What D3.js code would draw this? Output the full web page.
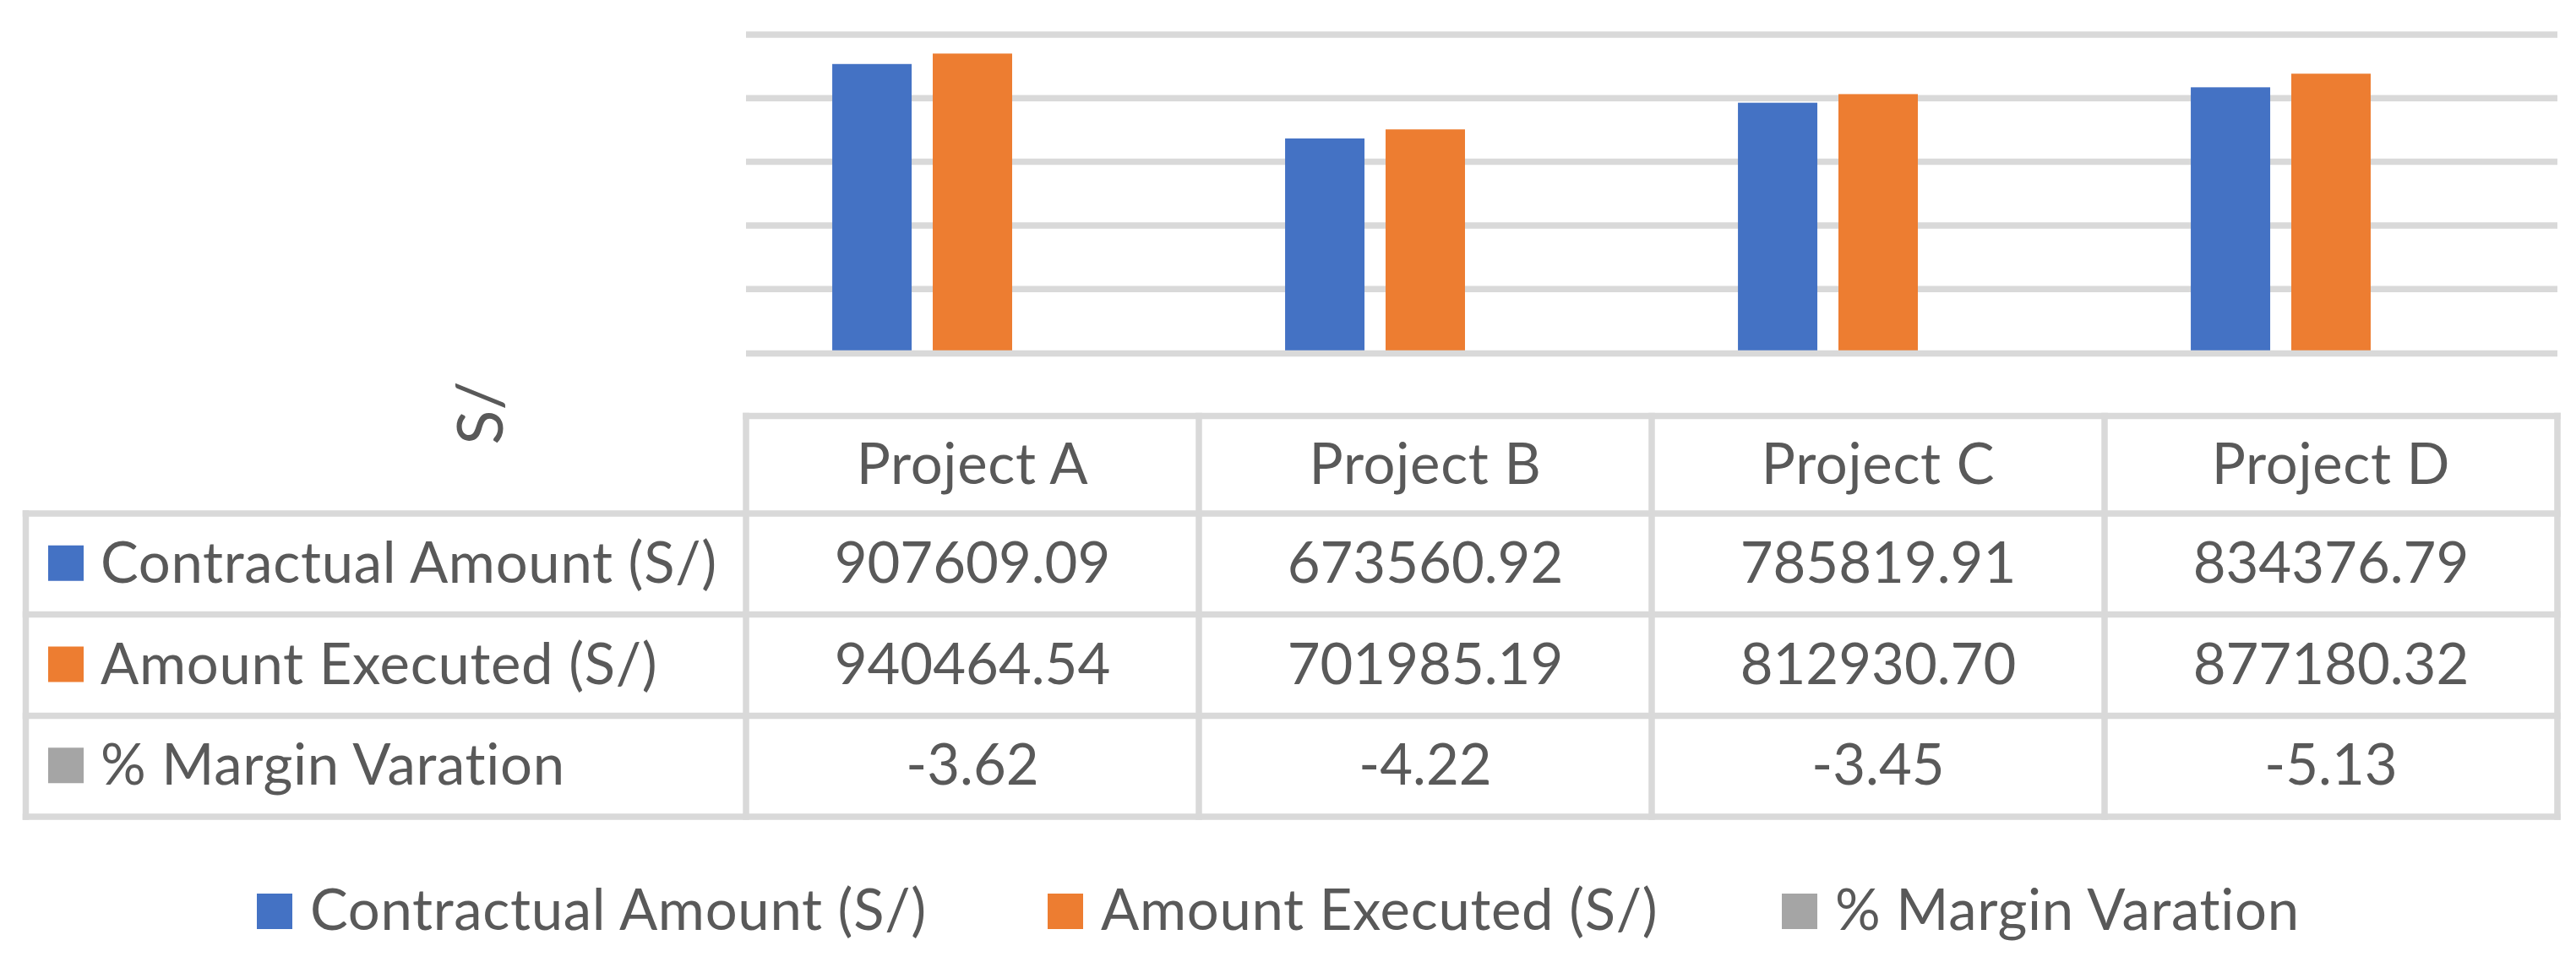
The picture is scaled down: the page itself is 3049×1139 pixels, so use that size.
<!DOCTYPE html>
<html>
<head>
<meta charset="utf-8">
<script src="https://cdn.jsdelivr.net/npm/d3@7"></script>
<style>
  body { margin: 0; background: #ffffff; }
  text { font-family: Lato, "Open Sans", sans-serif; fill: #595959; }
  .lbl { letter-spacing: 0.7px; }
</style>
</head>
<body>
<script>
var width = 3049;
var height = 1139;

// data
var categories = ["Project A", "Project B", "Project C", "Project D"];
var seriesNames = ["Contractual Amount (S/)", "Amount Executed (S/)", "% Margin Varation"];
var contractual = [907609.09, 673560.92, 785819.91, 834376.79];
var executed = [940464.54, 701985.19, 812930.70, 877180.32];
var margin = [-3.62, -4.22, -3.45, -5.13];
var yTicks = [0, 200000, 400000, 600000, 800000, 1000000];
var axisTitle = "S/";

var colors = ["#4472C4", "#ED7D31", "#A5A5A5"];
var gridColor = "#D9D9D9";
var lineW = 7.5;
var fontSize = 67;

var seriesValues = [contractual, executed, margin];

var plotLeft = 883, plotRight = 3027;
var tableLeft = 30.5;
var headerTop = 492.5;
var rowLines = [608, 727.5, 847.5, 967];

var svg = d3.select("body").append("svg")
    .attr("width", width)
    .attr("height", height);

var x = d3.scaleBand()
    .domain(categories)
    .range([plotLeft, plotRight]);

var xSub = d3.scaleBand()
    .domain(seriesNames)
    .range([0, x.bandwidth()])
    .paddingInner(0.21)
    .paddingOuter(0.858);

var y = d3.scaleLinear()
    .domain([0, 1000000])
    .range([417.5, 41]);

// gridlines (behind the bars)
svg.append("g").selectAll("line")
  .data(yTicks.slice(1))
.enter().append("line")
  .attr("x1", plotLeft)
  .attr("x2", plotRight)
  .attr("y1", function(d) { return y(d); })
  .attr("y2", function(d) { return y(d); })
  .attr("stroke", gridColor)
  .attr("stroke-width", lineW);

// bars
var groups = svg.append("g").selectAll("g")
  .data(categories)
.enter().append("g")
  .attr("transform", function(d) { return "translate(" + x(d) + ",0)"; });

groups.selectAll("rect")
  .data(function(d, i) {
    return seriesNames.map(function(s, j) { return { name: s, value: seriesValues[j][i], k: j }; });
  })
.enter().append("rect")
  .attr("x", function(d) { return xSub(d.name); })
  .attr("width", xSub.bandwidth())
  .attr("y", function(d) { return Math.min(y(d.value), y(0)); })
  .attr("height", function(d) { return Math.abs(y(d.value) - y(0)); })
  .attr("fill", function(d) { return colors[d.k]; });

// category axis line at zero
svg.append("line")
  .attr("x1", plotLeft)
  .attr("x2", plotRight)
  .attr("y1", y(0) + 1)
  .attr("y2", y(0) + 1)
  .attr("stroke", gridColor)
  .attr("stroke-width", lineW);

// axis title
svg.append("text")
  .attr("transform", "translate(595,489) rotate(-90)")
  .attr("text-anchor", "middle")
  .style("font-size", "76px")
  .text(axisTitle);

// data table grid
var table = svg.append("g")
  .attr("stroke", gridColor)
  .attr("stroke-width", lineW)
  .attr("stroke-linecap", "square");

table.append("line")
  .attr("x1", plotLeft).attr("x2", plotRight)
  .attr("y1", headerTop).attr("y2", headerTop);

table.selectAll("line.row")
  .data(rowLines)
.enter().append("line")
  .attr("class", "row")
  .attr("x1", tableLeft).attr("x2", plotRight)
  .attr("y1", function(d) { return d; })
  .attr("y2", function(d) { return d; });

table.append("line")
  .attr("x1", tableLeft).attr("x2", tableLeft)
  .attr("y1", rowLines[0]).attr("y2", rowLines[3]);

var colEdges = categories.map(function(c) { return x(c); }).concat([plotRight]);
table.selectAll("line.col")
  .data(colEdges)
.enter().append("line")
  .attr("class", "col")
  .attr("x1", function(d) { return d; })
  .attr("x2", function(d) { return d; })
  .attr("y1", headerTop)
  .attr("y2", rowLines[3]);

// header texts
svg.append("g").selectAll("text")
  .data(categories)
.enter().append("text")
  .attr("class", "lbl")
  .attr("x", function(d) { return x(d) + x.bandwidth() / 2; })
  .attr("y", 573)
  .attr("text-anchor", "middle")
  .style("font-size", fontSize + "px")
  .text(function(d) { return d; });

// rows
seriesNames.forEach(function(s, j) {
  var mid = (rowLines[j] + rowLines[j + 1]) / 2;
  svg.append("rect")
    .attr("x", 57)
    .attr("y", mid - 22)
    .attr("width", 42)
    .attr("height", 42)
    .attr("fill", colors[j]);
  svg.append("text")
    .attr("class", "lbl")
    .attr("x", 119)
    .attr("y", mid + 22)
    .style("font-size", fontSize + "px")
    .text(s);
  svg.append("g").selectAll("text")
    .data(seriesValues[j])
  .enter().append("text")
    .attr("x", function(d, i) { return x(categories[i]) + x.bandwidth() / 2; })
    .attr("y", mid + 22)
    .attr("text-anchor", "middle")
    .style("font-size", fontSize + "px")
    .text(function(d) { return d.toFixed(2); });
});

// legend
var legendX = [304, 1240, 2109];
var legend = svg.append("g").selectAll("g")
  .data(seriesNames)
.enter().append("g")
  .attr("transform", function(d, i) { return "translate(" + legendX[i] + ",1058)"; });

legend.append("rect")
  .attr("width", 42)
  .attr("height", 42)
  .attr("fill", function(d, i) { return colors[i]; });

legend.append("text")
  .attr("class", "lbl")
  .attr("x", 63)
  .attr("y", 43)
  .style("font-size", fontSize + "px")
  .text(function(d) { return d; });
</script>
</body>
</html>
